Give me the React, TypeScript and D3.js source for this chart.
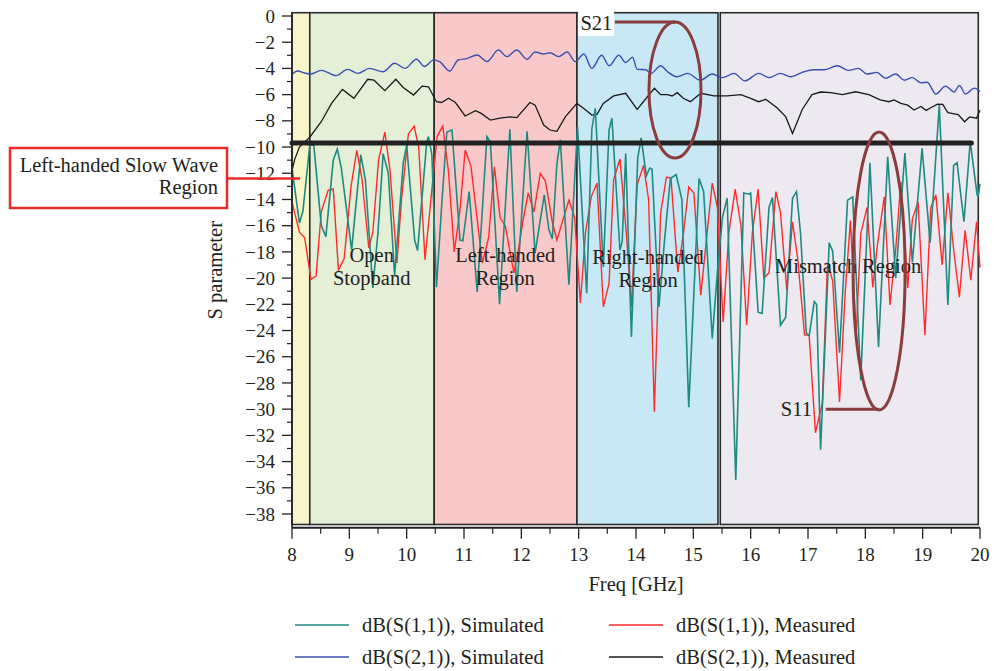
import React from "react";
import * as d3 from "d3";

// ---- Axis ticks ----
const freqTicks = [8, 9, 10, 11, 12, 13, 14, 15, 16, 17, 18, 19, 20];
const freqMinorTicks = [8.5, 9.5, 10.5, 11.5, 12.5, 13.5, 14.5, 15.5, 16.5, 17.5, 18.5, 19.5];
const dbTicks = [0, -2, -4, -6, -8, -10, -12, -14, -16, -18, -20, -22, -24, -26, -28, -30, -32, -34, -36, -38];
const dbMinorTicks = [-1, -3, -5, -7, -9, -11, -13, -15, -17, -19, -21, -23, -25, -27, -29, -31, -33, -35, -37];

// ---- Operating bands (GHz) ----
const bandStart = [8.0, 8.31, 10.48, 12.97, 15.47];
const bandEnd = [8.31, 10.48, 12.97, 15.43, 19.97];
const bandLabels = [[], ["Open", "Stopband"], ["Left-handed", "Region"], ["Right-handed", "Region"], ["Mismatch Region"]];
const bandLabelFreq = [8.15, 9.39, 11.72, 14.21, 17.7];
const bandLabelDb = [0, -18.8, -18.8, -18.9, -19.6];

// ---- Measured S21 threshold level (dB) ----
const thresholdDb = -9.7;
const thresholdEnd = 19.85;

// ---- dB(S(1,1)), simulated: [GHz, dB] ----
const s11Simulated: [number, number][] = [
  [8.0, -11.6], [8.13, -15.8], [8.19, -14.9], [8.31, -9.85], [8.38, -9.85], [8.51, -15.95], [8.59, -16.85],
  [8.72, -11.0], [8.79, -10.15], [8.86, -11.6], [9.04, -17.85], [9.2, -10.6], [9.28, -12.5], [9.41, -20.75],
  [9.5, -16.5], [9.59, -10.5], [9.68, -12.0], [9.79, -19.8], [9.94, -11.2], [10.0, -9.85], [10.14, -17.1],
  [10.19, -17.9], [10.35, -9.6], [10.38, -9.2], [10.44, -10.6], [10.52, -20.7], [10.61, -14.5], [10.7, -8.85],
  [10.79, -8.7], [10.93, -17.1], [10.98, -17.15], [11.09, -13.4], [11.23, -21.05], [11.4, -9.2], [11.46, -9.6],
  [11.62, -22.0], [11.8, -8.65], [11.92, -21.05], [12.1, -8.8], [12.24, -18.1], [12.4, -13.65], [12.48, -16.3],
  [12.54, -17.0], [12.62, -11.3], [12.68, -9.45], [12.83, -20.5], [12.98, -8.45], [13.14, -21.15], [13.23, -8.6],
  [13.29, -7.05], [13.43, -19.15], [13.53, -8.7], [13.58, -7.8], [13.72, -17.85], [13.76, -17.2], [13.82, -10.5],
  [13.92, -24.5], [14.03, -10.85], [14.09, -9.3], [14.18, -12.2], [14.24, -11.6], [14.28, -11.7], [14.4, -22.2],
  [14.5, -17.0], [14.6, -12.4], [14.7, -12.1], [14.8, -14.0], [14.92, -29.85], [15.1, -12.4], [15.18, -13.4],
  [15.33, -24.6], [15.42, -19.5], [15.51, -15.3], [15.59, -13.9], [15.74, -35.4], [15.88, -13.5], [15.97, -13.6],
  [16.0, -13.5], [16.13, -22.6], [16.2, -22.7], [16.32, -14.6], [16.38, -13.85], [16.52, -23.6], [16.61, -23.0],
  [16.73, -13.9], [16.8, -13.4], [16.87, -16.6], [16.97, -24.2], [17.02, -24.4], [17.11, -21.8], [17.15, -22.0],
  [17.22, -33.1], [17.37, -17.3], [17.43, -17.95], [17.55, -25.7], [17.69, -14.05], [17.78, -13.8], [17.92, -27.8],
  [18.08, -11.2], [18.23, -25.25], [18.39, -10.75], [18.53, -20.0], [18.69, -10.45], [18.82, -18.8], [18.99, -10.1],
  [19.13, -17.3], [19.29, -6.8], [19.44, -22.05], [19.54, -11.4], [19.6, -11.2], [19.72, -15.7], [19.83, -9.6],
  [19.95, -13.65], [19.97, -13.7], [20.0, -12.8],
];

// ---- dB(S(1,1)), measured ----
const s11Measured: [number, number][] = [
  [8.0, -14.2], [8.13, -16.5], [8.22, -16.9], [8.33, -20.1], [8.42, -19.85], [8.51, -14.95], [8.63, -13.3],
  [8.72, -13.2], [8.81, -19.4], [8.91, -18.5], [9.03, -13.0], [9.13, -10.25], [9.22, -12.4], [9.34, -17.7],
  [9.41, -16.5], [9.51, -11.0], [9.62, -8.85], [9.71, -11.8], [9.83, -18.85], [9.91, -14.0], [10.03, -9.0],
  [10.13, -8.4], [10.21, -10.0], [10.32, -18.6], [10.53, -9.2], [10.63, -8.4], [10.73, -11.9], [10.83, -18.0],
  [10.93, -14.8], [11.02, -10.25], [11.12, -11.4], [11.23, -15.5], [11.32, -18.85], [11.43, -16.9], [11.53, -11.5],
  [11.63, -15.4], [11.72, -16.0], [11.87, -19.6], [11.95, -17.8], [12.03, -15.6], [12.12, -13.5], [12.22, -14.95],
  [12.33, -12.0], [12.42, -12.6], [12.54, -15.7], [12.62, -17.1], [12.83, -14.05], [12.93, -15.4], [13.03, -21.9],
  [13.12, -16.5], [13.22, -13.8], [13.32, -12.75], [13.43, -22.2], [13.53, -20.4], [13.61, -12.5], [13.72, -10.9],
  [13.83, -16.5], [13.92, -22.2], [14.02, -12.9], [14.13, -11.4], [14.22, -14.0], [14.32, -30.2], [14.43, -15.05],
  [14.53, -12.3], [14.61, -12.35], [14.73, -19.55], [14.83, -16.5], [14.92, -13.05], [15.01, -13.5], [15.13, -21.3],
  [15.23, -17.0], [15.33, -12.75], [15.42, -14.6], [15.52, -23.35], [15.62, -16.5], [15.73, -13.2], [15.83, -16.0],
  [15.93, -23.6], [16.03, -16.5], [16.13, -13.2], [16.23, -20.0], [16.32, -19.6], [16.44, -13.4], [16.52, -15.0],
  [16.63, -20.9], [16.73, -15.7], [16.82, -18.5], [16.94, -24.35], [17.02, -24.35], [17.13, -31.8], [17.25, -29.5],
  [17.34, -18.85], [17.43, -20.2], [17.55, -29.45], [17.65, -21.0], [17.74, -15.6], [17.84, -24.35], [17.92, -16.6],
  [18.03, -14.6], [18.13, -20.7], [18.21, -17.5], [18.33, -13.8], [18.43, -22.05], [18.53, -17.8], [18.62, -12.65],
  [18.74, -20.75], [18.82, -15.5], [18.92, -14.2], [19.04, -24.35], [19.14, -14.65], [19.23, -13.65], [19.34, -19.0],
  [19.44, -13.5], [19.54, -17.8], [19.64, -21.45], [19.74, -16.35], [19.84, -20.15], [19.94, -15.7], [20.0, -19.2],
];

// ---- dB(S(2,1)), simulated ----
const s21Simulated: [number, number][] = [
  [8.0, -4.45], [8.1, -4.2], [8.22, -4.35], [8.33, -4.43], [8.51, -4.15], [8.62, -4.3], [8.77, -4.55], [8.97, -4.07],
  [9.15, -4.38], [9.35, -4.0], [9.59, -4.25], [9.79, -3.6], [9.97, -4.0], [10.17, -3.3], [10.31, -3.85], [10.47, -3.35],
  [10.58, -3.5], [10.75, -4.2], [10.9, -3.36], [11.05, -3.25], [11.23, -2.98], [11.4, -3.48], [11.6, -2.6], [11.75, -3.1],
  [11.92, -2.6], [12.1, -3.3], [12.24, -2.75], [12.39, -2.9], [12.5, -2.8], [12.65, -3.1], [12.8, -2.75], [12.94, -3.48],
  [13.09, -2.9], [13.23, -4.0], [13.4, -3.0], [13.53, -3.8], [13.7, -3.0], [13.82, -3.55], [13.94, -3.15], [14.02, -4.07],
  [14.17, -4.1], [14.26, -4.38], [14.43, -3.8], [14.55, -4.25], [14.71, -4.63], [14.9, -4.38], [15.12, -4.9],
  [15.33, -4.43], [15.51, -4.7], [15.71, -4.38], [15.9, -4.95], [16.14, -4.38], [16.32, -4.7], [16.52, -4.38],
  [16.7, -4.63], [16.9, -4.3], [17.1, -4.1], [17.28, -4.1], [17.51, -3.8], [17.71, -4.15], [17.88, -4.0], [18.03, -4.43],
  [18.2, -4.3], [18.35, -4.75], [18.53, -4.43], [18.68, -4.9], [18.82, -4.7], [18.97, -5.1], [19.08, -5.05],
  [19.23, -5.95], [19.4, -5.35], [19.55, -5.8], [19.64, -5.3], [19.75, -5.95], [19.9, -5.5], [20.0, -5.75],
];

// ---- dB(S(2,1)), measured ----
const s21Measured: [number, number][] = [
  [8.0, -11.8], [8.05, -10.9], [8.13, -10.0], [8.31, -9.25], [8.51, -8.07], [8.69, -6.67], [8.88, -5.6], [9.08, -6.28],
  [9.32, -4.83], [9.43, -4.9], [9.62, -5.7], [9.81, -4.83], [9.94, -5.45], [10.12, -6.03], [10.27, -5.35], [10.38, -5.4],
  [10.52, -6.54], [10.61, -6.6], [10.73, -6.28], [10.85, -6.6], [11.02, -7.63], [11.2, -7.22], [11.3, -7.43],
  [11.46, -7.94], [11.63, -7.8], [11.8, -7.7], [11.92, -7.75], [12.15, -6.6], [12.24, -6.8], [12.39, -8.32], [12.5, -8.7],
  [12.62, -8.8], [12.77, -7.68], [12.97, -6.67], [13.09, -7.05], [13.23, -7.56], [13.32, -7.5], [13.43, -6.67],
  [13.61, -6.1], [13.82, -5.9], [14.02, -7.13], [14.32, -5.52], [14.43, -6.0], [14.55, -6.0], [14.63, -6.1],
  [14.72, -5.85], [14.83, -6.3], [14.95, -6.54], [15.13, -5.9], [15.36, -6.1], [15.59, -6.1], [15.83, -6.0],
  [16.0, -6.28], [16.14, -6.54], [16.26, -6.36], [16.46, -7.0], [16.61, -7.68], [16.73, -8.96], [16.9, -7.13],
  [17.07, -6.0], [17.22, -5.8], [17.4, -5.85], [17.6, -6.0], [17.83, -5.78], [18.06, -6.0], [18.26, -6.4], [18.41, -6.54],
  [18.5, -6.4], [18.62, -6.67], [18.74, -6.8], [18.85, -7.18], [18.97, -6.9], [19.06, -7.2], [19.14, -7.0],
  [19.26, -6.72], [19.35, -6.75], [19.44, -7.38], [19.62, -7.53], [19.73, -8.07], [19.82, -7.7], [19.94, -7.8],
  [20.0, -7.2],
];

const legendLabels = [
  "dB(S(1,1)), Simulated",
  "dB(S(1,1)), Measured",
  "dB(S(2,1)), Simulated",
  "dB(S(2,1)), Measured",
];

const COLORS = {
  s11Sim: "#1f8a80",
  s11Meas: "#ff2b2b",
  s21Sim: "#3a4fb5",
  s21Meas: "#1a1a1a",
  bands: ["#f8f6c9", "#e4efd8", "#f9c9c9", "#c9e8f6", "#ece9f1"],
  ink: "#231f20",
  callout: "#8b3c3c",
  boxRed: "#e82a2a",
};

export default function App() {
  const W = 994;
  const H = 671;
  const x = d3.scaleLinear().domain([8, 20]).range([292, 980]);
  const y = d3.scaleLinear().domain([0, -38]).range([16, 514]);
  const font = "'Liberation Serif', 'Times New Roman', serif";

  const straight = d3
    .line<[number, number]>()
    .x((d) => x(d[0]))
    .y((d) => y(d[1]));
  const smooth = d3
    .line<[number, number]>()
    .x((d) => x(d[0]))
    .y((d) => y(d[1]))
    .curve(d3.curveMonotoneX);

  const frameTop = y(0.25);
  const bandBottom = y(-38.8);
  const axisY = y(-39.05);
  const axisX = x(8);

  const legendRows = [625, 657];
  const legendCols = [
    { x0: 295, x1: 349, tx: 362 },
    { x0: 609, x1: 663, tx: 676 },
  ];
  const legendColors = [COLORS.s11Sim, COLORS.s11Meas, COLORS.s21Sim, COLORS.s21Meas];

  return (
    <svg
      width={W}
      height={H}
      style={{ position: "absolute", left: 0, top: 0, background: "#fff" }}
      fontFamily={font}
    >
      {/* band backgrounds */}
      {bandStart.map((f0, i) => (
        <rect
          key={`band-${i}`}
          x={x(f0)}
          y={frameTop}
          width={x(bandEnd[i]) - x(f0)}
          height={bandBottom - frameTop}
          fill={COLORS.bands[i]}
          stroke="#2b2b2b"
          strokeWidth={1.6}
        />
      ))}

      {/* data curves */}
      <path d={smooth(s21Simulated) ?? ""} fill="none" stroke={COLORS.s21Sim} strokeWidth={1.4} />
      <path d={straight(s21Measured) ?? ""} fill="none" stroke={COLORS.s21Meas} strokeWidth={1.3} />
      <path d={straight(s11Measured) ?? ""} fill="none" stroke={COLORS.s11Meas} strokeWidth={1.4} />
      <path d={straight(s11Simulated) ?? ""} fill="none" stroke={COLORS.s11Sim} strokeWidth={1.6} />

      {/* threshold line */}
      <line
        x1={x(8)}
        x2={x(thresholdEnd)}
        y1={y(thresholdDb)}
        y2={y(thresholdDb)}
        stroke="#222"
        strokeWidth={5}
        strokeLinecap="round"
      />

      {/* y axis */}
      <line x1={axisX} x2={axisX} y1={frameTop} y2={axisY} stroke="#222" strokeWidth={1.6} />
      {dbTicks.map((v) => (
        <g key={`yt-${v}`}>
          <line x1={axisX - 10} x2={axisX} y1={y(v)} y2={y(v)} stroke="#222" strokeWidth={1.3} />
          <text
            x={axisX - 17}
            y={y(v)}
            dy="0.35em"
            textAnchor="end"
            fontSize={19}
            fill={COLORS.ink}
          >
            {v === 0 ? "0" : `\u2212${Math.abs(v)}`}
          </text>
        </g>
      ))}
      {dbMinorTicks.map((v) => (
        <line key={`ym-${v}`} x1={axisX - 5} x2={axisX} y1={y(v)} y2={y(v)} stroke="#222" strokeWidth={1.2} />
      ))}

      {/* x axis */}
      <line x1={x(8)} x2={x(20)} y1={axisY} y2={axisY} stroke="#222" strokeWidth={1.8} />
      {freqTicks.map((f) => (
        <g key={`xt-${f}`}>
          <line x1={x(f)} x2={x(f)} y1={axisY} y2={axisY + 11} stroke="#222" strokeWidth={1.3} />
          <text x={x(f)} y={axisY + 33} textAnchor="middle" fontSize={19} fill={COLORS.ink}>
            {f}
          </text>
        </g>
      ))}
      {freqMinorTicks.map((f) => (
        <line key={`xm-${f}`} x1={x(f)} x2={x(f)} y1={axisY} y2={axisY + 6} stroke="#222" strokeWidth={1.2} />
      ))}

      {/* axis titles */}
      <text x={636} y={591} textAnchor="middle" fontSize={20.5} fill={COLORS.ink}>
        Freq [GHz]
      </text>
      <text
        transform={`translate(222, ${(frameTop + axisY) / 2}) rotate(-90)`}
        textAnchor="middle"
        fontSize={20.5}
        fill={COLORS.ink}
      >
        S parameter
      </text>

      {/* band labels */}
      {bandLabels.map((lines, i) =>
        lines.map((t, j) => (
          <text
            key={`bl-${i}-${j}`}
            x={x(bandLabelFreq[i])}
            y={y(bandLabelDb[i]) + j * 23}
            textAnchor="middle"
            fontSize={20.5}
            fill={COLORS.ink}
          >
            {t}
          </text>
        ))
      )}

      {/* S21 callout */}
      <ellipse
        cx={x(14.68)}
        cy={y(-5.65)}
        rx={26}
        ry={68}
        fill="none"
        stroke={COLORS.callout}
        strokeWidth={3}
      />
      <line x1={x(13.63)} x2={x(14.68)} y1={y(-0.46)} y2={y(-0.46)} stroke={COLORS.callout} strokeWidth={3} />
      <rect x={x(12.99)} y={9} width={36} height={27} fill="#fff" />
      <text x={x(13.03)} y={30} fontSize={20.5} fill={COLORS.ink}>
        S21
      </text>

      {/* S11 callout */}
      <ellipse
        cx={x(18.24)}
        cy={y(-19.46)}
        rx={26}
        ry={139}
        fill="none"
        stroke={COLORS.callout}
        strokeWidth={3}
      />
      <line x1={x(17.31)} x2={x(18.24)} y1={y(-30)} y2={y(-30)} stroke={COLORS.callout} strokeWidth={3} />
      <text x={x(17.07)} y={y(-30)} dy="0.35em" textAnchor="end" fontSize={20.5} fill={COLORS.ink}>
        S11
      </text>

      {/* slow-wave region callout */}
      <rect x={10} y={148} width={217} height={60} fill="#fff" stroke={COLORS.boxRed} strokeWidth={2.5} />
      <line x1={227} x2={x(8.14)} y1={y(-12.4)} y2={y(-12.4)} stroke={COLORS.boxRed} strokeWidth={2.5} />
      <text x={218} y={172} textAnchor="end" fontSize={20.5} fill={COLORS.ink}>
        Left-handed Slow Wave
      </text>
      <text x={218} y={194} textAnchor="end" fontSize={20.5} fill={COLORS.ink}>
        Region
      </text>

      {/* legend */}
      {legendLabels.map((label, i) => {
        const row = Math.floor(i / 2);
        const col = legendCols[i % 2];
        const ly = legendRows[row];
        return (
          <g key={`lg-${i}`}>
            <line x1={col.x0} x2={col.x1} y1={ly} y2={ly} stroke={legendColors[i]} strokeWidth={1.5} />
            <text x={col.tx} y={ly} dy="0.35em" fontSize={20.5} fill={COLORS.ink}>
              {label}
            </text>
          </g>
        );
      })}
    </svg>
  );
}
